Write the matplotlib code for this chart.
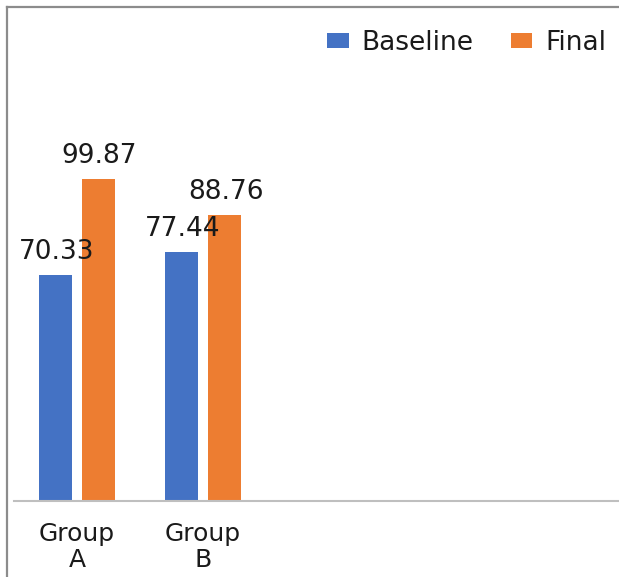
import matplotlib
matplotlib.use("Agg")
import matplotlib.pyplot as plt
from matplotlib.lines import Line2D
from matplotlib.patches import Patch
import numpy as np

plt.rcParams["font.family"] = ["DejaVu Sans"]

categories = ["Group\nA", "Group\nB"]
series_names = ["Baseline", "Final"]
baseline = [70.33, 77.44]
final = [99.87, 88.76]
colors = ["#4472C4", "#ED7D31"]

W, H = 619, 577
fig = plt.figure(figsize=(W / 100, H / 100), dpi=100)
fig.patch.set_facecolor("white")

# plot area in pixel terms
left_px, right_px, top_px, bottom_px = 14, 619, 115, 501
ax = fig.add_axes([left_px / W, 1 - bottom_px / H,
                   (right_px - left_px) / W, (bottom_px - top_px) / H])

cat_px = 126.0
x = np.arange(len(categories))
bar_w = 33 / cat_px
offset = 21.5 / cat_px

for vals, off, col in [(baseline, -offset, colors[0]), (final, offset, colors[1])]:
    bars = ax.bar(x + off, vals, width=bar_w, color=col, zorder=2)
    for b, v in zip(bars, vals):
        ax.annotate(f"{v:.2f}", xy=(b.get_x() + b.get_width() / 2, v),
                    xytext=(1, 23), textcoords="offset pixels",
                    ha="center", va="center", fontsize=19, color="#1a1a1a")

ax.set_xlim(-0.5, -0.5 + (right_px - left_px) / cat_px)
ax.set_ylim(0, (bottom_px - top_px) / 3.22)

for s in ["left", "right", "top"]:
    ax.spines[s].set_visible(False)
ax.spines["bottom"].set_color("#BFBFBF")
ax.spines["bottom"].set_linewidth(1.5)
ax.set_yticks([])
ax.set_xticks(x)
ax.set_xticklabels(categories, fontsize=18, color="#1a1a1a", linespacing=1.1)
ax.tick_params(axis="x", length=0, pad=15)
ax.patch.set_alpha(0)

handles = [Patch(facecolor=c, edgecolor="none") for c in colors]
fig.legend(handles, series_names, loc="center right",
           bbox_to_anchor=(606 / W, 1 - 43 / H), ncol=2, frameon=False,
           fontsize=19, handlelength=0.8, handleheight=0.5,
           handletextpad=0.5, columnspacing=1.4, labelcolor="#1a1a1a",
           borderaxespad=0, borderpad=0)

# outer frame on the left and top edges
fig.add_artist(Line2D([7 / W, 7 / W], [0, 1 - 7 / H], transform=fig.transFigure,
                      color="#8c8c8c", lw=1.6))
fig.add_artist(Line2D([7 / W, 1], [1 - 7 / H, 1 - 7 / H], transform=fig.transFigure,
                      color="#8c8c8c", lw=1.6))

fig.savefig("out.png", dpi=100, facecolor="white")
